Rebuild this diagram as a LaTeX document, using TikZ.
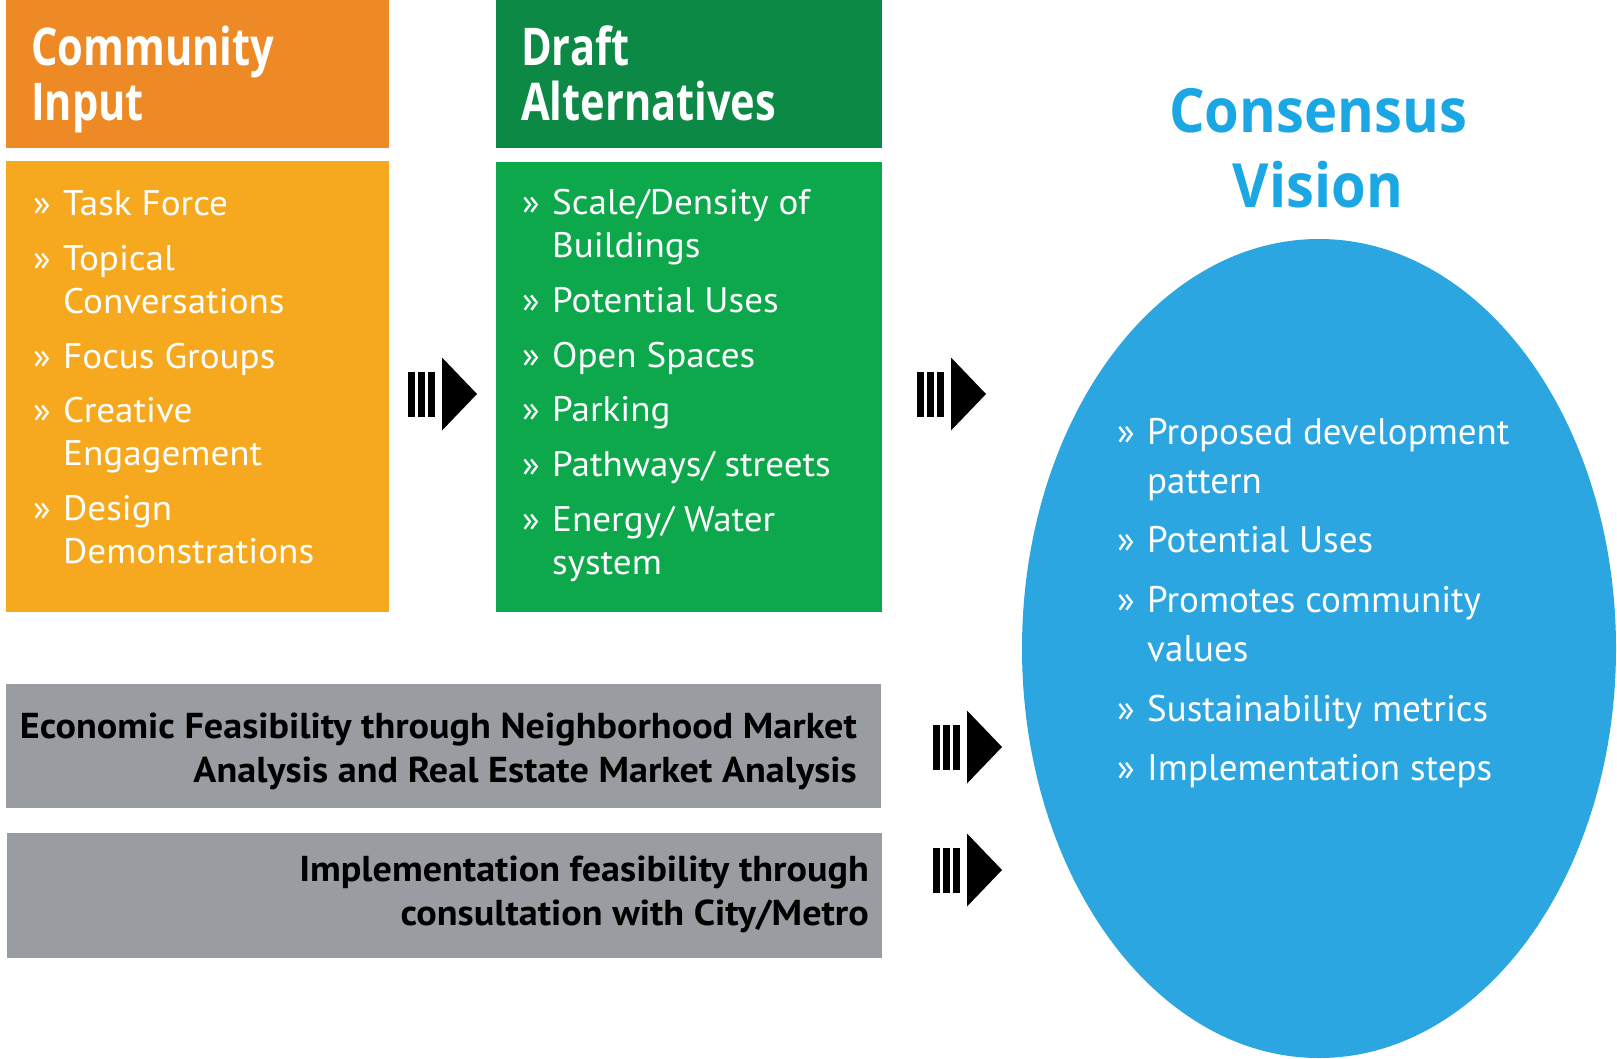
\documentclass[tikz,border=0pt]{standalone}
\usepackage{fontspec}
\setmainfont{PT Sans}
\newfontfamily\bodyfont{PT Sans}[FakeStretch=1.045]
\newfontfamily\ellfont{PT Sans}
\newfontfamily\grayfont{PT Sans}[FakeStretch=1.06]
\newfontfamily\headfont{Open Sans}[FakeStretch=0.80]
\newfontfamily\titlefont{Open Sans}[FakeStretch=0.92]
\definecolor{orhead}{HTML}{EE8A26}
\definecolor{orbody}{HTML}{F6A91E}
\definecolor{grhead}{HTML}{0C8A45}
\definecolor{grbody}{HTML}{0DA84C}
\definecolor{grayb}{HTML}{999CA0}
\definecolor{ellblue}{HTML}{2CA6E0}
\definecolor{titleblue}{HTML}{1BA7E4}
\tikzset{
  itm/.style={anchor=base west, inner sep=0pt, text=white, font=\bodyfont\fontsize{35.5}{42}\selectfont},
  eitm/.style={anchor=base west, inner sep=0pt, text=white, font=\ellfont\fontsize{37}{44}\selectfont},
  hdr/.style={anchor=base west, inner sep=0pt, text=white, font=\headfont\bfseries\fontsize{52}{60}\selectfont},
  ttl/.style={anchor=base, inner sep=0pt, text=titleblue, font=\titlefont\bfseries\fontsize{61}{70}\selectfont},
  gtxt/.style={anchor=base east, inner sep=0pt, text=black, font=\grayfont\bfseries\fontsize{36}{42}\selectfont},
  chevfill/.style={fill=black}
}
\newcommand\bitem[5][itm]{%
  \node[#1] (#2b) at (#3,#4) {»};
  \node[#1] (#2) at (#3+30,#4) {#5};}
\newcommand\citem[5][itm]{%
  \node[#1] (#2) at (#3+30,#4) {#5};}
\newcommand\chev[2]{%
  \begin{scope}[shift={(#1,#2)}]
    \fill[chevfill] (0,-22.5) rectangle (7,22.5);
    \fill[chevfill] (10,-22.5) rectangle (17,22.5);
    \fill[chevfill] (20,-22.5) rectangle (27,22.5);
    \fill[chevfill] (34,-36.5) -- (69,0) -- (34,36.5) -- cycle;
  \end{scope}}
\begin{document}
\begin{tikzpicture}[x=1pt,y=-1pt]
\useasboundingbox (0,0) rectangle (1617,1058);
\fill[white] (0,0) rectangle (1617,1058);
% boxes
\fill[orhead] (6,0) rectangle (389,148);
\fill[orbody] (6,161) rectangle (389,612);
\fill[grhead] (496,0) rectangle (882,148);
\fill[grbody] (496,162) rectangle (882,612);
\fill[grayb] (6,684) rectangle (881,808);
\fill[grayb] (7,833) rectangle (882,958);
\fill[ellblue] (1319,648.5) ellipse [x radius=297pt, y radius=409.5pt];
% headers
\node[hdr] (h1a) at (31,65) {Community};
\node[hdr] (h1b) at (31,120) {Input};
\node[hdr] (h2a) at (521,65) {Draft};
\node[hdr] (h2b) at (521,120) {Alternatives};
\node[ttl] (t1) at (1318,132) {Consensus};
\node[ttl] (t2) at (1318,207) {Vision};
% orange list
\bitem{o1}{33}{215}{Task Force}
\bitem{o2}{33}{270}{Topical}
\citem{o2c}{33}{313}{Conversations}
\bitem{o3}{33}{368}{Focus Groups}
\bitem{o4}{33}{422}{Creative}
\citem{o4c}{33}{465}{Engagement}
\bitem{o5}{33}{520}{Design}
\citem{o5c}{33}{563}{Demonstrations}
% green list
\bitem{g1}{522}{214}{Scale/Density of}
\citem{g1c}{522}{257}{Buildings}
\bitem{g2}{522}{312}{Potential Uses}
\bitem{g3}{522}{367}{Open Spaces}
\bitem{g4}{522}{421}{Parking}
\bitem{g5}{522}{476}{Pathways/ streets}
\bitem{g6}{522}{531}{Energy/ Water}
\citem{g6c}{522}{574}{system}
% ellipse list
\bitem[eitm]{e1}{1117}{444}{Proposed development}
\citem[eitm]{e1c}{1117}{493}{pattern}
\bitem[eitm]{e2}{1117}{552}{Potential Uses}
\bitem[eitm]{e3}{1117}{612}{Promotes community}
\citem[eitm]{e3c}{1117}{661}{values}
\bitem[eitm]{e4}{1117}{721}{Sustainability metrics}
\bitem[eitm]{e5}{1117}{780}{Implementation steps}
% gray texts
\node[gtxt] (x1) at (857,738) {Economic Feasibility through Neighborhood Market};
\node[gtxt] (x2) at (857,782) {Analysis and Real Estate Market Analysis};
\node[gtxt] (x3) at (869,881) {Implementation feasibility through};
\node[gtxt] (x4) at (869,925) {consultation with City/Metro};
% arrows
\chev{408}{394}
\chev{917}{394}
\chev{933}{747}
\chev{933}{870}
\end{tikzpicture}
\end{document}
